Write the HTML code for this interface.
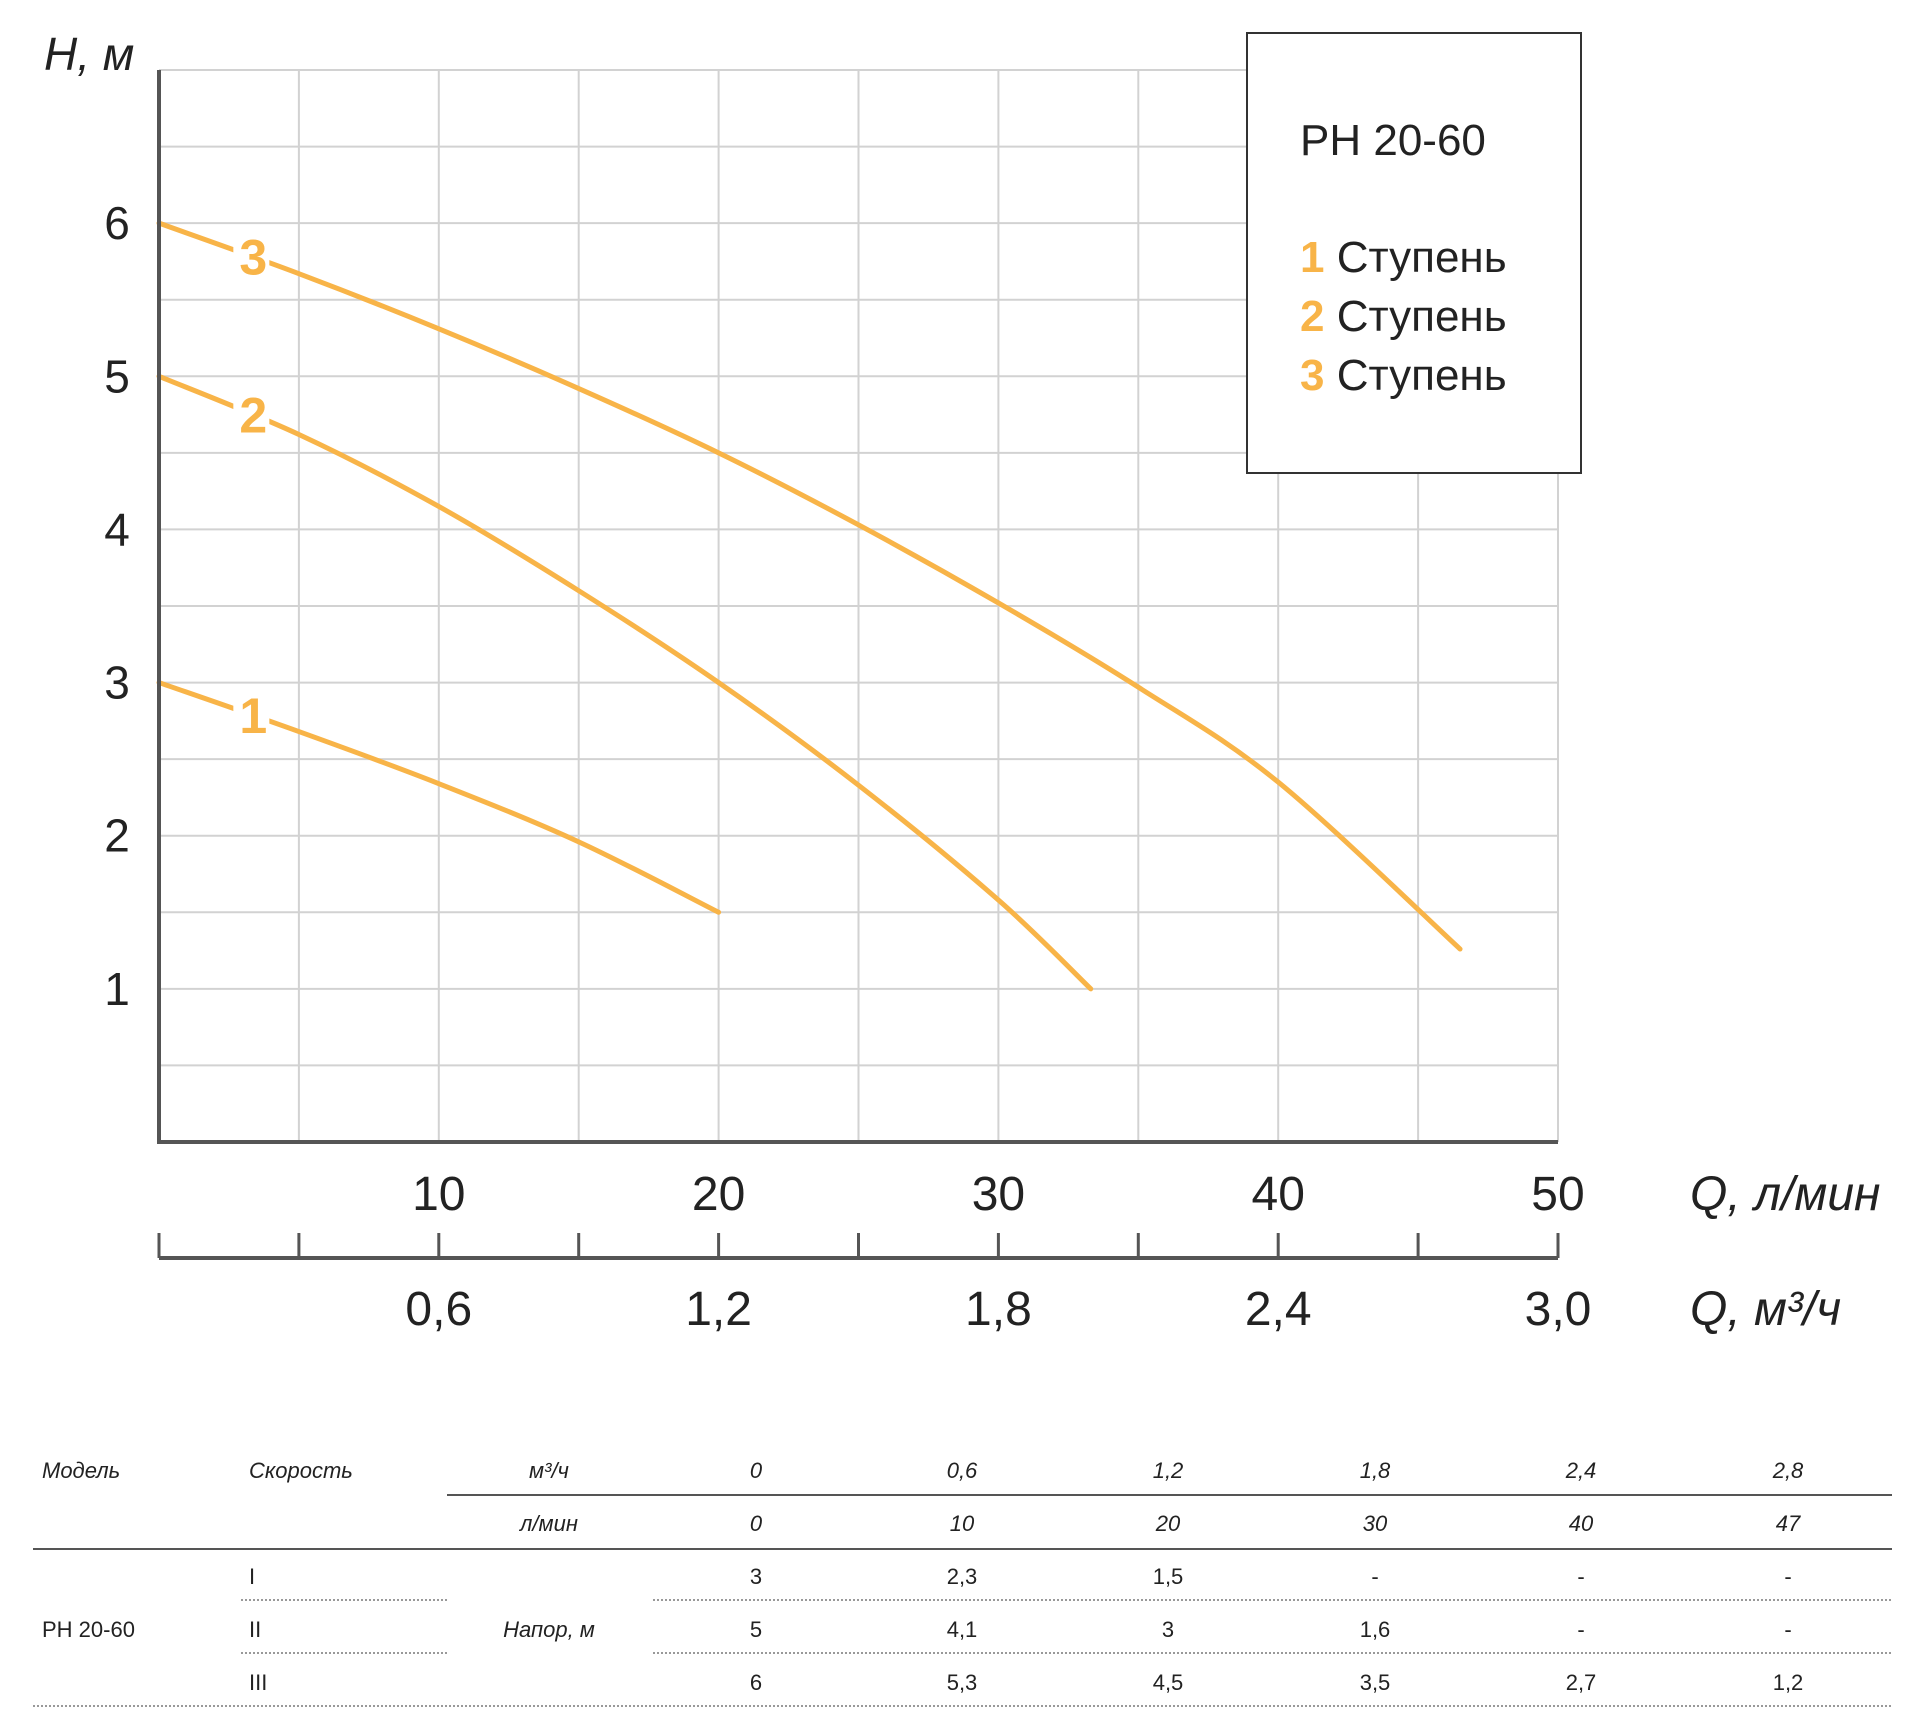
<!DOCTYPE html>
<html><head><meta charset="utf-8">
<style>
body{margin:0;background:#fff;}
svg{display:block;font-family:"Liberation Sans","DejaVu Sans",sans-serif;}
</style></head>
<body>
<svg id="chart" width="1920" height="1728" viewBox="0 0 1920 1728" xmlns="http://www.w3.org/2000/svg">
<g id="grid"></g>
<g id="curves"></g>
<g id="axes"></g>
<g id="legend">
  <rect x="1247" y="33" width="334" height="440" fill="#fff" stroke="#333" stroke-width="2"/>
  <text x="1300" y="155" font-size="44" fill="#222">PH 20-60</text>
  <text x="1300" y="272" font-size="44" fill="#222"><tspan fill="#f8b448" font-weight="bold">1</tspan> Ступень</text>
  <text x="1300" y="331" font-size="44" fill="#222"><tspan fill="#f8b448" font-weight="bold">2</tspan> Ступень</text>
  <text x="1300" y="390" font-size="44" fill="#222"><tspan fill="#f8b448" font-weight="bold">3</tspan> Ступень</text>
</g>
<g id="table"></g>
</svg>
<script>
const qTicksLmin = [10, 20, 30, 40, 50];
const qTicksM3h = ["0,6", "1,2", "1,8", "2,4", "3,0"];
const hTicks = [1, 2, 3, 4, 5, 6];
const curve1Q = [0, 5, 10, 15, 20];
const curve1H = [3, 2.68, 2.34, 1.96, 1.5];
const curve2Q = [0, 5, 10, 15, 20, 25, 30, 33.3];
const curve2H = [5, 4.62, 4.15, 3.6, 3.0, 2.33, 1.58, 1.0];
const curve3Q = [0, 5, 10, 15, 20, 25, 30, 35, 40, 46.5];
const curve3H = [6, 5.67, 5.31, 4.92, 4.5, 4.03, 3.52, 2.97, 2.35, 1.26];
const tableM3h = ["0", "0,6", "1,2", "1,8", "2,4", "2,8"];
const tableLmin = ["0", "10", "20", "30", "40", "47"];
const tableRow1 = ["3", "2,3", "1,5", "-", "-", "-"];
const tableRow2 = ["5", "4,1", "3", "1,6", "-", "-"];
const tableRow3 = ["6", "5,3", "4,5", "3,5", "2,7", "1,2"];

const NS = "http://www.w3.org/2000/svg";
const X0 = 159, X1 = 1558, Y0 = 1142, YTOP = 70;
const xs = q => X0 + (X1 - X0) * q / 50;
const ys = h => Y0 - (Y0 - YTOP) * h / 7;
function mk(tag, attrs, parent, txt) {
  const e = document.createElementNS(NS, tag);
  for (const k in attrs) e.setAttribute(k, attrs[k]);
  if (txt !== undefined) e.textContent = txt;
  parent.appendChild(e);
  return e;
}
const grid = document.getElementById('grid');
for (let i = 1; i <= 10; i++) {
  const l = mk('line', {x1: xs(i*5), x2: xs(i*5), y1: YTOP, y2: Y0, stroke: '#d2d2d2', 'stroke-width': 2}, grid);
  
  
}
for (let i = 1; i <= 14; i++) {
  const l = mk('line', {x1: X0, x2: X1, y1: ys(i*0.5), y2: ys(i*0.5), stroke: '#d2d2d2', 'stroke-width': 2}, grid);
  
  
}
const curves = document.getElementById('curves');
function pathFor(Q, H) {
  const p = Q.map((q, i) => [xs(q), ys(H[i])]);
  let d = `M${p[0][0]},${p[0][1]}`;
  for (let i = 0; i < p.length - 1; i++) {
    const p0 = p[Math.max(0, i-1)], p1 = p[i], p2 = p[i+1], p3 = p[Math.min(p.length-1, i+2)];
    const c1 = [p1[0] + (p2[0]-p0[0])/6, p1[1] + (p2[1]-p0[1])/6];
    const c2 = [p2[0] - (p3[0]-p1[0])/6, p2[1] - (p3[1]-p1[1])/6];
    d += ` C${c1[0]},${c1[1]} ${c2[0]},${c2[1]} ${p2[0]},${p2[1]}`;
  }
  return d;
}
[[curve1Q, curve1H, '1'], [curve2Q, curve2H, '2'], [curve3Q, curve3H, '3']].forEach(([Q, H, n]) => {
  const p = mk('path', {d: pathFor(Q, H), fill: 'none', stroke: '#f8b448', 'stroke-width': 5, 'stroke-linecap': 'round'}, curves);
  
  
  const lq = 3.3;
  let h = H[0] + (H[1]-H[0]) * lq / Q[1];
  const bg = mk('rect', {x: xs(lq)-18, y: ys(h)-26, width: 36, height: 52, fill: '#fff'}, curves);
  
  
  const t = mk('text', {x: xs(lq)+2, y: ys(h)+18, 'font-size': 50, 'font-weight': 'bold', fill: '#f8b448', 'text-anchor': 'middle'}, curves, n);
  
  
});
const axes = document.getElementById('axes');
let a = mk('path', {d: `M${X0},${YTOP} V${Y0} H${X1}`, fill: 'none', stroke: '#555', 'stroke-width': 4}, axes);


hTicks.forEach(h => {
  const t = mk('text', {x: 117, y: ys(h)+16, 'font-size': 46, fill: '#222', 'text-anchor': 'middle'}, axes, h);
  
  
});
a = mk('text', {x: 44, y: 70, 'font-size': 46, 'font-style': 'italic', fill: '#222'}, axes, 'H, м');


qTicksLmin.forEach(q => {
  const t = mk('text', {x: xs(q), y: 1210, 'font-size': 48, fill: '#222', 'text-anchor': 'middle'}, axes, q);
  
  
});
qTicksM3h.forEach((s, i) => {
  const t = mk('text', {x: xs((i+1)*10), y: 1325, 'font-size': 48, fill: '#222', 'text-anchor': 'middle'}, axes, s);
  
  
});
a = mk('line', {x1: X0, x2: X1, y1: 1258, y2: 1258, stroke: '#555', 'stroke-width': 4}, axes);


for (let i = 0; i <= 10; i++) {
  const t = mk('line', {x1: xs(i*5), x2: xs(i*5), y1: 1233, y2: 1258, stroke: '#555', 'stroke-width': 3}, axes);
  
  
}
a = mk('text', {x: 1690, y: 1210, 'font-size': 48, 'font-style': 'italic', fill: '#222'}, axes, 'Q, л/мин');


a = mk('text', {x: 1690, y: 1325, 'font-size': 48, 'font-style': 'italic', fill: '#222'}, axes, 'Q, м³/ч');



const tb = document.getElementById('table');
const colX = [756, 962, 1168, 1375, 1581, 1788];
function txt(x, y, s, anchor, italic, name) {
  const t = mk('text', {x: x, y: y, 'font-size': 22, fill: '#222', 'text-anchor': anchor, 'font-style': italic ? 'italic' : 'normal'}, tb, s);
  
  
}
txt(42, 1478, 'Модель', 'start', true, 'table-header-model');
txt(249, 1478, 'Скорость', 'start', true, 'table-header-speed');
txt(549, 1478, 'м³/ч', 'middle', true, 'table-header-m3h');
txt(549, 1531, 'л/мин', 'middle', true, 'table-header-lmin');
tableM3h.forEach((s, i) => txt(colX[i], 1478, s, 'middle', true, 'table-m3h-cell'));
tableLmin.forEach((s, i) => txt(colX[i], 1531, s, 'middle', true, 'table-lmin-cell'));
[tableRow1, tableRow2, tableRow3].forEach((row, r) => {
  const y = 1584 + r * 53;
  row.forEach((s, i) => txt(colX[i], y, s, 'middle', false, 'table-head-cell'));
  txt(249, y, ['I', 'II', 'III'][r], 'start', false, 'table-speed-label');
});
txt(42, 1637, 'PH 20-60', 'start', false, 'table-model-name');
txt(549, 1637, 'Напор, м', 'middle', true, 'table-head-label');
function line(x1, x2, y, dash, w, name) {
  const l = mk('line', {x1: x1, x2: x2, y1: y, y2: y, stroke: dash ? '#999' : '#555', 'stroke-width': w, 'stroke-dasharray': dash ? '2 2' : 'none'}, tb);
  
  
}
line(447, 1892, 1495, false, 2, 'table-rule-1');
line(33, 1892, 1549, false, 2, 'table-rule-2');
line(241, 447, 1600, true, 2, 'table-dotted');
line(653, 1892, 1600, true, 2, 'table-dotted');
line(241, 447, 1653, true, 2, 'table-dotted');
line(653, 1892, 1653, true, 2, 'table-dotted');
line(33, 1892, 1706, true, 2, 'table-dotted');
</script>
</body></html>
